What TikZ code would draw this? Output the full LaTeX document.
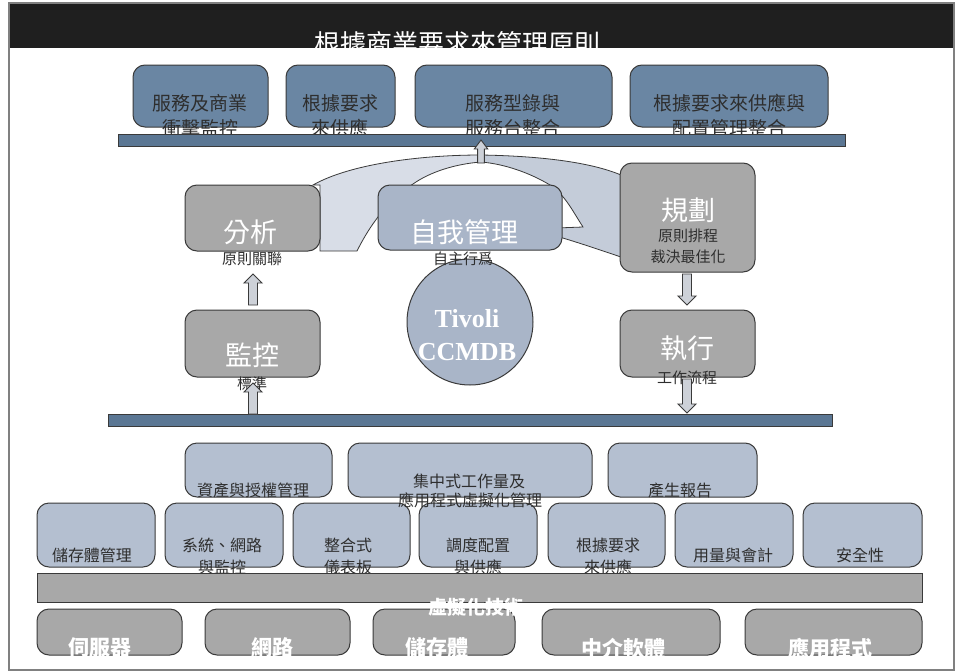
\documentclass[tikz,border=0pt]{standalone}
\usepackage{fontspec}
\setmainfont{Noto Sans CJK TC}
\newfontfamily\tivfont{Liberation Serif}
\usetikzlibrary{calc}
\definecolor{topblue}{HTML}{6A86A3}
\definecolor{barblue}{HTML}{5B7794}
\definecolor{midgray}{HTML}{A8A8A8}
\definecolor{lightblue}{HTML}{B4BFD0}
\definecolor{selfblue}{HTML}{A9B5C8}
\definecolor{bandA}{HTML}{D8DDE7}
\definecolor{bandB}{HTML}{C4CCD9}
\definecolor{edgecol}{HTML}{3A3A3A}
\definecolor{txtcol}{HTML}{2E2E2E}
\definecolor{arrowfill}{HTML}{CDD1D8}
\begin{document}
\begin{tikzpicture}[x=1pt,y=-1pt,
  rbox/.style={rounded corners=12pt, draw=edgecol, line width=1pt, inner sep=0pt},
  topbox/.style={rbox, fill=topblue},
  grybox/.style={rbox, fill=midgray},
  ltbox/.style={rbox, fill=lightblue},
  slfbox/.style={rbox, fill=selfblue},
  barsty/.style={draw=edgecol, line width=1pt, fill=barblue, inner sep=0pt},
  whitetxt/.style={text=white, inner sep=0pt, align=center},
  darktxt/.style={text=txtcol, inner sep=0pt, align=center},
  arrowsty/.style={draw=edgecol, line width=0.9pt, fill=arrowfill, line join=miter},
  bandline/.style={draw=edgecol, line width=0.8pt},
  pics/blkarrow/.style={code={
    \draw[arrowsty] (0,0) -- (9,9) -- (4.5,9) -- (4.5,#1) -- (-4.5,#1) -- (-4.5,9) -- (-9,9) -- cycle;
  }}
]
\useasboundingbox (0,0) rectangle (959,672);
\fill[white] (0,0) rectangle (959,672);
% header band and frame
\fill[black!88] (9,3) rectangle (954,48);
\draw[gray, line width=1.5pt] (9,3) rectangle (954,670);
\node[whitetxt, font=\fontsize{26}{30}\selectfont] (title) at (457,44) {根據商業要求來管理原則};

% top boxes
\node[topbox, minimum width=135pt, minimum height=62pt] (t1) at (200.5,96) {};
\node[topbox, minimum width=109pt, minimum height=62pt] (t2) at (340.5,96) {};
\node[topbox, minimum width=197pt, minimum height=62pt] (t3) at (513.5,96) {};
\node[topbox, minimum width=198pt, minimum height=62pt] (t4) at (729,96) {};
\begin{scope}[every node/.style={darktxt, font=\fontsize{19}{25}\selectfont}]
\node (t1a) at (200,103) {服務及商業};
\node (t1b) at (200,128) {衝擊監控};
\node (t2a) at (340,103) {根據要求};
\node (t2b) at (340,128) {來供應};
\node (t3a) at (513,103) {服務型錄與};
\node (t3b) at (513,128) {服務台整合};
\node (t4a) at (729,103) {根據要求來供應與};
\node (t4b) at (729,128) {配置管理整合};
\end{scope}
% top bar
\node[barsty, minimum width=727pt, minimum height=12pt] (topbar) at (481.5,140) {};

% arc bands
\path[fill=bandA, bandline] (313,185) .. controls (350,164) and (420,155) .. (481,155)
  -- (481,162) .. controls (455,164) and (430,172) .. (413,184)
  .. controls (395,196) and (375,215) .. (357,251) -- (320,251) -- (320,185) -- cycle;
\path[fill=bandB, bandline] (481,155) .. controls (540,156) and (590,162) .. (621,175)
  -- (621,257) .. controls (600,250) and (580,243) .. (556,236) -- (556,228) -- (583,227)
  .. controls (572,210) and (565,195) .. (550,185) .. controls (530,173) and (505,164) .. (481,162) -- cycle;
% small up arrow into top bar
\pic[xscale=0.75] at (481,140) {blkarrow=23};

% middle boxes
\node[grybox, minimum width=135pt, minimum height=66pt] (fenxi) at (252.5,218) {};
\node[slfbox, minimum width=184pt, minimum height=65pt] (ziwo) at (470,217.5) {};
\node[grybox, minimum width=135pt, minimum height=109pt] (guihua) at (687.5,217.5) {};
\node[grybox, minimum width=135pt, minimum height=67pt] (jiankong) at (252.5,343.5) {};
\node[grybox, minimum width=135pt, minimum height=67pt] (zhixing) at (687.5,343.5) {};
\node[circle, draw=edgecol, line width=1pt, fill=selfblue, minimum size=126pt, inner sep=0pt] (tivoli) at (470,322) {};

\begin{scope}[every node/.style={whitetxt, font=\fontsize{27}{30}\selectfont}]
\node (fenxiT) at (250,232) {分析};
\node (ziwoT) at (464,232) {自我管理};
\node (guihuaT) at (688,210) {規劃};
\node (jiankongT) at (252,355) {監控};
\node (zhixingT) at (687,348) {執行};
\end{scope}
\begin{scope}[every node/.style={darktxt, font=\fontsize{15}{21}\selectfont}]
\node (fenxiS) at (252,259) {原則關聯};
\node (ziwoS) at (463,259) {自主行爲};
\node (guihuaS1) at (688,236) {原則排程};
\node (guihuaS2) at (688,257) {裁決最佳化};
\node (jiankongS) at (252,384) {標準};
\node (zhixingS) at (687,378) {工作流程};
\end{scope}
\node[whitetxt, font=\tivfont\bfseries\fontsize{26}{30}\selectfont] (tivA) at (467,319) {Tivoli};
\node[whitetxt, font=\tivfont\bfseries\fontsize{26}{30}\selectfont] (tivB) at (467,352) {CCMDB};

% middle bar
\node[barsty, minimum width=724pt, minimum height=12pt] (midbar) at (470,420) {};

% block arrows
\pic at (253,274) {blkarrow=31};
\pic at (253,383) {blkarrow=31};
\pic[rotate=180] at (687,305) {blkarrow=31};
\pic[rotate=180] at (687,413) {blkarrow=34};

% lower row 1
\node[ltbox, minimum width=147pt, minimum height=54pt] (asset) at (258.5,470) {};
\node[ltbox, minimum width=244pt, minimum height=54pt] (central) at (470,470) {};
\node[ltbox, minimum width=149pt, minimum height=54pt] (report) at (682.5,470) {};
% lower row 2
\node[ltbox, minimum width=118pt, minimum height=64pt] (stmgmt) at (96,535) {};
\node[ltbox, minimum width=118pt, minimum height=64pt] (sysnet) at (224,535) {};
\node[ltbox, minimum width=117pt, minimum height=64pt] (dash) at (351.5,535) {};
\node[ltbox, minimum width=118pt, minimum height=64pt] (dispatch) at (478,535) {};
\node[ltbox, minimum width=117pt, minimum height=64pt] (ondemand) at (606.5,535) {};
\node[ltbox, minimum width=118pt, minimum height=64pt] (usage) at (734,535) {};
\node[ltbox, minimum width=119pt, minimum height=64pt] (security) at (862.5,535) {};
\begin{scope}[every node/.style={darktxt, font=\fontsize{16}{20}\selectfont}]
\node (assetT) at (253,490) {資產與授權管理};
\node (centralA) at (469,481) {集中式工作量及};
\node (centralB) at (470,500) {應用程式虛擬化管理};
\node (reportT) at (680,490) {產生報告};
\node (stmgmtT) at (92,555) {儲存體管理};
\node (sysnetA) at (222,545) {系統、網路};
\node (sysnetB) at (222,567) {與監控};
\node (dashA) at (348,545) {整合式};
\node (dashB) at (348,567) {儀表板};
\node (dispatchA) at (478,545) {調度配置};
\node (dispatchB) at (478,567) {與供應};
\node (ondemandA) at (608,545) {根據要求};
\node (ondemandB) at (608,567) {來供應};
\node (usageT) at (733,555) {用量與會計};
\node (securityT) at (860,555) {安全性};
\end{scope}

% virtualization bar
\node[draw=edgecol, line width=1pt, fill=midgray, minimum width=885pt, minimum height=29pt, inner sep=0pt] (virt) at (479.5,587.5) {};
% bottom row
\node[grybox, minimum width=145pt, minimum height=46pt] (server) at (109.5,632) {};
\node[grybox, minimum width=145pt, minimum height=46pt] (network) at (277.5,632) {};
\node[grybox, minimum width=142pt, minimum height=46pt] (storage) at (444,632) {};
\node[grybox, minimum width=178pt, minimum height=46pt] (middle) at (631,632) {};
\node[grybox, minimum width=177pt, minimum height=46pt] (apps) at (833.5,632) {};
\node[whitetxt, font=\bfseries\fontsize{19}{22}\selectfont] (virtT) at (476,607) {虛擬化技術};
\begin{scope}[every node/.style={whitetxt, font=\bfseries\fontsize{21}{24}\selectfont}]
\node (serverT) at (100,648) {伺服器};
\node (networkT) at (272,648) {網路};
\node (storageT) at (437,648) {儲存體};
\node (middleT) at (623,648) {中介軟體};
\node (appsT) at (830,648) {應用程式};
\end{scope}
\end{tikzpicture}
\end{document}
